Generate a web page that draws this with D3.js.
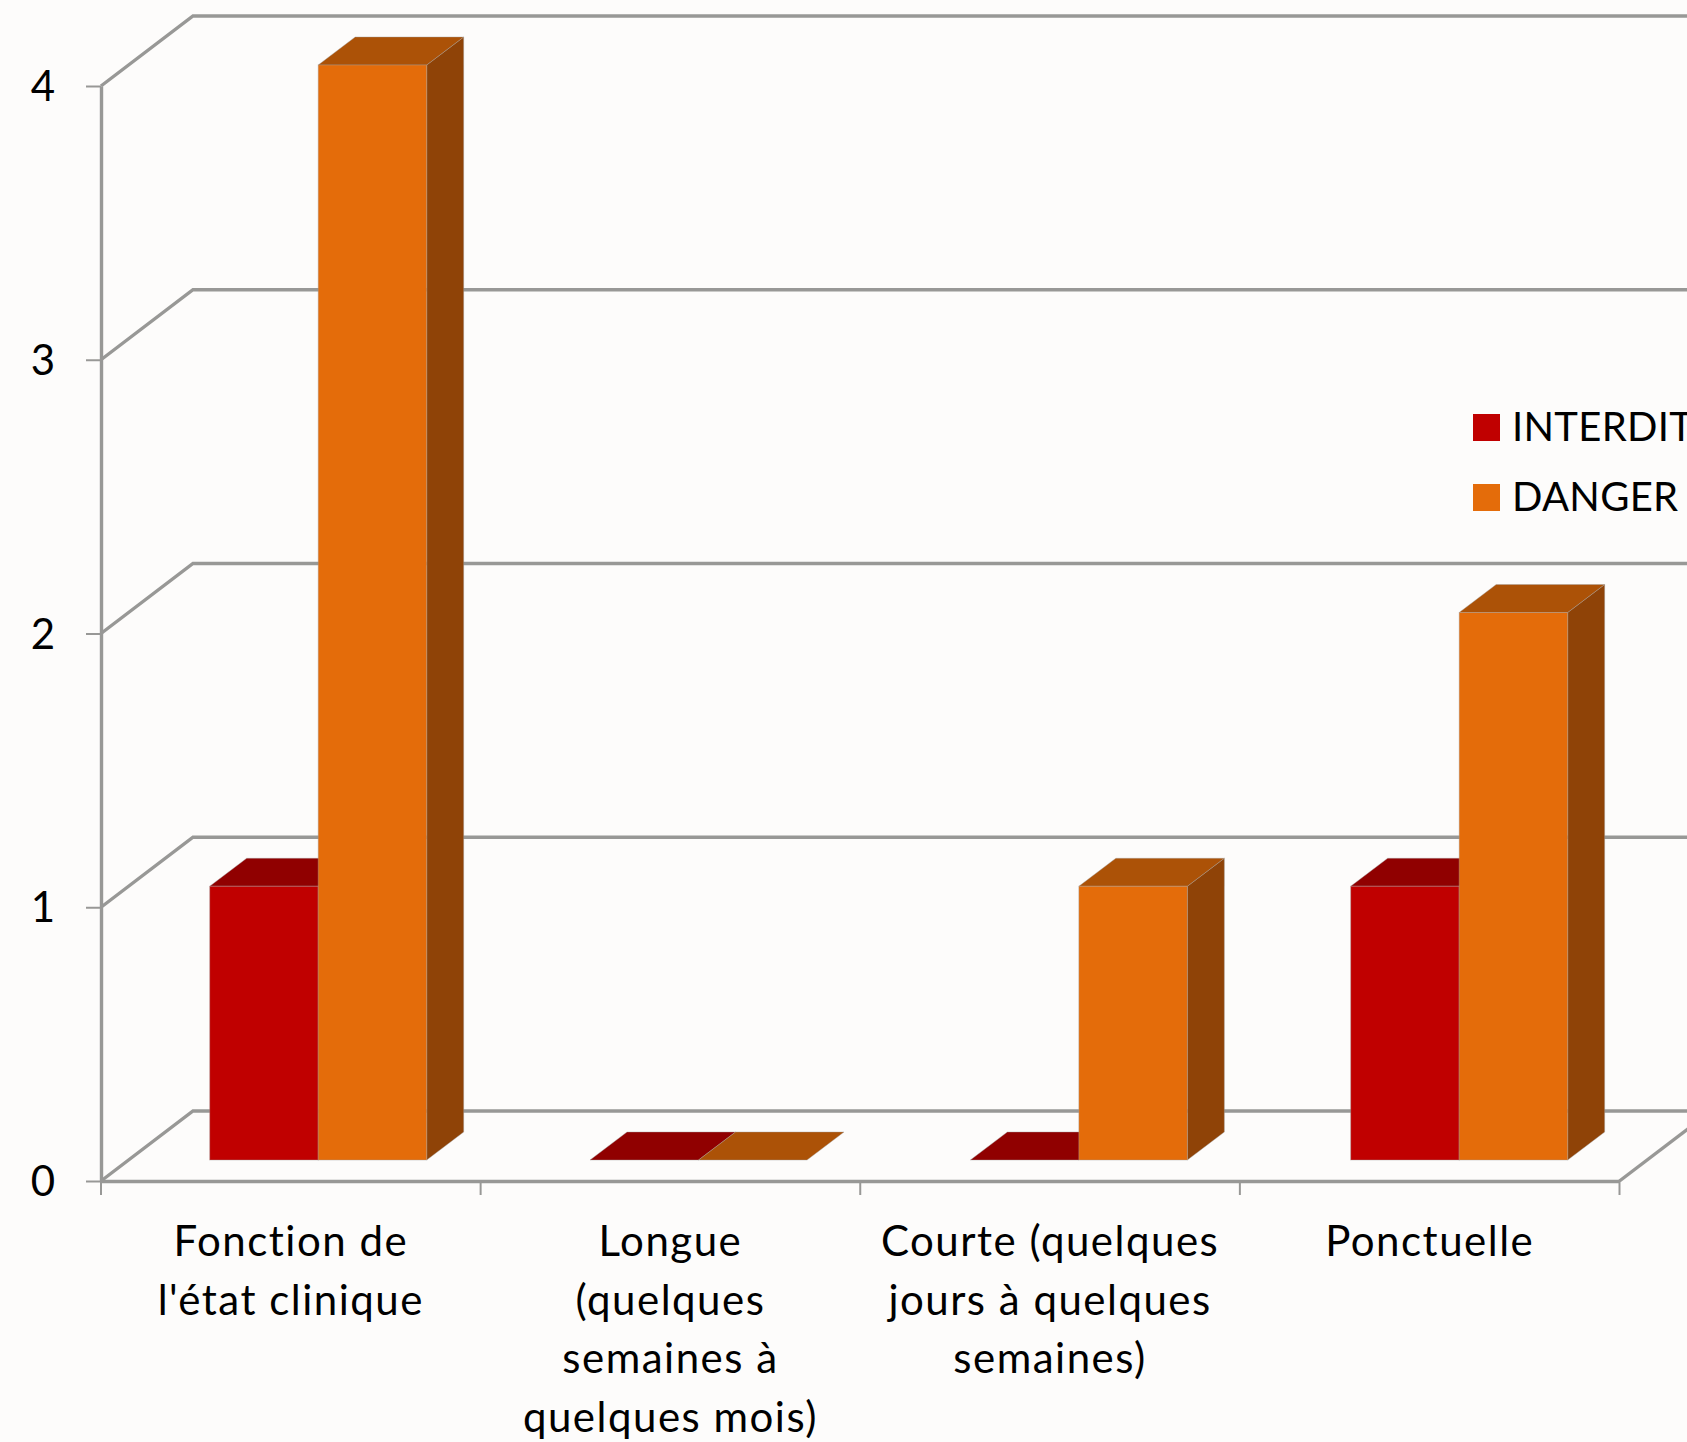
<!DOCTYPE html>
<html>
<head>
<meta charset="utf-8">
<script src="https://cdn.jsdelivr.net/npm/d3@7/dist/d3.min.js"></script>
<style>
  html, body { margin: 0; padding: 0; background: #fdfcfb; overflow: hidden; }
  svg { display: block; }
  text { font-family: Lato, "Open Sans", sans-serif; fill: #000; font-variant-ligatures: none; }
</style>
</head>
<body>
<svg id="chart" width="1687" height="1442"></svg>
<script>
// Chart values
const categories = [
  ["Fonction de", "l'état clinique"],
  ["Longue", "(quelques", "semaines à", "quelques mois)"],
  ["Courte (quelques", "jours à quelques", "semaines)"],
  ["Ponctuelle"]
];
const seriesNames = ["INTERDIT", "DANGER"];
const interditValues = [1, 0, 0, 1];
const dangerValues = [4, 0, 1, 2];
const yTicks = [0, 1, 2, 3, 4];

// Face colours per series: front, top, side
const seriesColors = [
  { front: "#c00000", top: "#900000", side: "#900000" },
  { front: "#e46c0a", top: "#ac5207", side: "#8f4307" }
];
const seriesValues = [interditValues, dangerValues];

// Projection of the 3D box
const W = 1687, H = 1442;
const wallDx = 92, wallDy = 70;      // floor depth
const barLift = 21;                  // bars stand this far behind the front edge
const barDx = 37, barDy = 28;        // bar depth
const lineColor = "#989896";

const svg = d3.select("#chart");
svg.append("rect").attr("width", W).attr("height", H).attr("fill", "#fdfcfb");

const y = d3.scaleLinear().domain([0, 4]).range([1181, 86]);
const xAxisScale = d3.scaleBand().domain(d3.range(categories.length)).range([101, 1619.5]);
const xGroup = d3.scaleBand().domain(d3.range(categories.length)).range([209.7, 1731]);
const xSeries = d3.scaleBand().domain(d3.range(seriesNames.length)).range([0, 217]);

// Walls: one receding line plus one back line per gridline
const grid = svg.append("g");
grid.selectAll("path").data(yTicks).join("path")
  .attr("d", v => `M101,${y(v)}L${101 + wallDx},${y(v) - wallDy}L${W},${y(v) - wallDy}`)
  .attr("fill", "none").attr("stroke", lineColor).attr("stroke-width", 3.4);
grid.append("path")
  .attr("d", `M1619.5,${y(0)}L${1619.5 + wallDx},${y(0) - wallDy}`)
  .attr("fill", "none").attr("stroke", lineColor).attr("stroke-width", 3.4);

// Axes
const yAxis = svg.append("g").attr("transform", "translate(101,0)")
  .call(d3.axisLeft(y).tickValues(yTicks).tickSize(15).tickSizeOuter(0).tickPadding(31).tickFormat(d3.format("d")));
const xAxis = svg.append("g").attr("transform", `translate(0,${y(0)})`)
  .call(d3.axisBottom(xAxisScale).tickSize(0).tickFormat(""));
xAxis.selectAll(".tick").remove();
xAxis.selectAll(".xtick").data(d3.range(categories.length + 1)).join("line")
  .attr("x1", i => i < categories.length ? xAxisScale(i) : xAxisScale(i - 1) + xAxisScale.bandwidth())
  .attr("x2", i => i < categories.length ? xAxisScale(i) : xAxisScale(i - 1) + xAxisScale.bandwidth())
  .attr("y1", 0).attr("y2", 14).attr("stroke", lineColor).attr("stroke-width", 2);
svg.selectAll(".domain").attr("stroke", lineColor).attr("stroke-width", 3.4);
yAxis.selectAll(".tick line").attr("stroke", lineColor).attr("stroke-width", 2);
yAxis.selectAll(".tick text").attr("font-size", 42).attr("font-family", "Lato, sans-serif").attr("fill", "#000").attr("dy", "0.35em");

// Bars: side, top, then front of each box, series by series
const edge = "rgba(160,160,160,0.4)";
seriesNames.forEach((name, s) => {
  const g = svg.append("g");
  const c = seriesColors[s];
  const w = xSeries.bandwidth();
  seriesValues[s].forEach((v, i) => {
    const x0 = xGroup(i) + xSeries(s);
    const base = y(0) - barLift;
    const top = y(v) - barLift;
    if (v > 0) {
      g.append("path")
        .attr("d", `M${x0 + w},${base}L${x0 + w + barDx},${base - barDy}L${x0 + w + barDx},${top - barDy}L${x0 + w},${top}Z`)
        .attr("fill", c.side).attr("stroke", edge);
    }
    g.append("path")
      .attr("d", `M${x0},${top}L${x0 + barDx},${top - barDy}L${x0 + w + barDx},${top - barDy}L${x0 + w},${top}Z`)
      .attr("fill", c.top).attr("stroke", edge);
    if (v > 0) {
      g.append("rect")
        .attr("x", x0).attr("y", top).attr("width", w).attr("height", base - top)
        .attr("fill", c.front).attr("stroke", edge);
    }
  });
});

// Category labels, one line per row
const labels = svg.append("g").attr("text-anchor", "middle").attr("font-size", 42).attr("letter-spacing", 1.5);
categories.forEach((lines, i) => {
  lines.forEach((line, k) => {
    labels.append("text")
      .attr("x", xAxisScale(i) + xAxisScale.bandwidth() / 2)
      .attr("y", 1256 + k * 58.5)
      .text(line);
  });
});

// Legend
const legend = svg.append("g");
seriesNames.forEach((name, s) => {
  legend.append("rect")
    .attr("x", 1473).attr("y", 414 + s * 70).attr("width", 27).attr("height", 27)
    .attr("fill", seriesColors[s].front);
  legend.append("text")
    .attr("x", 1512).attr("y", 441 + s * 70).attr("font-size", 40).attr("letter-spacing", 0.3)
    .text(name);
});
</script>
</body>
</html>
